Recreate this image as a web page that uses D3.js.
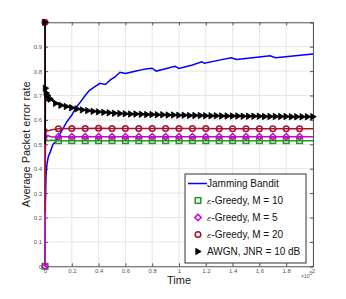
<!DOCTYPE html>
<html><head><meta charset="utf-8">
<script src="https://cdn.jsdelivr.net/npm/d3@7"></script>
<style>body{margin:0;background:#fff;}svg{display:block;font-family:"Liberation Sans",Arial,sans-serif;}</style>
</head><body>
<svg id="c" width="346" height="299"></svg>
<script>
const xTicks = [0,0.2,0.4,0.6,0.8,1,1.2,1.4,1.6,1.8,2];
const xTickLabels = ["0","0.2","0.4","0.6","0.8","1","1.2","1.4","1.6","1.8","2"];
const yTicks = [0,0.1,0.2,0.3,0.4,0.5,0.6,0.7,0.8,0.9,1];
const yTickLabels = ["0","0.1","0.2","0.3","0.4","0.5","0.6","0.7","0.8","0.9",""];

const banditX = [0,0.003,0.008,0.015,0.025,0.04,0.06,0.08,0.1,0.13,0.16,0.2,0.23,0.26,0.3,0.33,0.37,0.41,0.45,0.49,0.52,0.56,0.6,0.64,0.68,0.72,0.76,0.8,0.83,0.9,0.97,1.0,1.1,1.17,1.19,1.3,1.39,1.43,1.55,1.68,1.72,1.85,2.0];
const banditY = [0,0.25,0.38,0.42,0.45,0.47,0.5,0.51,0.53,0.56,0.59,0.62,0.65,0.67,0.7,0.72,0.735,0.75,0.745,0.765,0.775,0.795,0.79,0.795,0.8,0.805,0.81,0.812,0.80,0.81,0.82,0.811,0.825,0.838,0.832,0.845,0.855,0.848,0.855,0.863,0.855,0.862,0.87];

const g10X = [0,0.002,0.005,0.01,0.02,0.05,0.1,0.2,0.3,0.4,0.5,0.6,0.7,0.8,0.9,1.0,1.1,1.2,1.3,1.4,1.5,1.6,1.7,1.8,1.9,2.0];
const g10Y = [0,0.53,0.51,0.52,0.515,0.517,0.515,0.515,0.515,0.515,0.515,0.515,0.515,0.515,0.515,0.515,0.515,0.515,0.515,0.515,0.515,0.515,0.515,0.515,0.515,0.515];
const g5X = [0,0.001,0.003,0.006,0.01,0.02,0.05,0.1,0.2,0.3,0.4,0.5,0.6,0.7,0.8,0.9,1.0,1.1,1.2,1.3,1.4,1.5,1.6,1.7,1.8,1.9,2.0];
const g5Y = [0,0.2,0.53,0.545,0.525,0.535,0.53,0.531,0.531,0.531,0.531,0.531,0.531,0.531,0.531,0.531,0.531,0.531,0.531,0.531,0.531,0.531,0.531,0.531,0.531,0.531,0.531];
const g20X = [0,0.001,0.003,0.006,0.01,0.02,0.05,0.1,0.2,0.3,0.4,0.5,0.6,0.7,0.8,0.9,1.0,1.1,1.2,1.3,1.4,1.5,1.6,1.7,1.8,1.9,2.0];
const g20Y = [1,0.22,0.55,0.54,0.56,0.555,0.56,0.564,0.565,0.565,0.566,0.565,0.565,0.565,0.565,0.565,0.565,0.565,0.565,0.564,0.564,0.564,0.564,0.564,0.564,0.564,0.564];
const awgnX = [0,0.001,0.004,0.01,0.02,0.03,0.04,0.08,0.12,0.16,0.2,0.24,0.28,0.32,0.36,0.4,0.44,0.48,0.52,0.56,0.6,0.64,0.68,0.72,0.76,0.8,0.84,0.88,0.92,0.96,1.0,1.04,1.08,1.12,1.16,1.2,1.24,1.28,1.32,1.36,1.4,1.44,1.48,1.52,1.56,1.6,1.64,1.68,1.72,1.76,1.8,1.84,1.88,1.92,1.96,2.0];
const awgnY = [1.0,0.5,0.73,0.71,0.70,0.69,0.685,0.668,0.66,0.655,0.65,0.645,0.641,0.638,0.635,0.633,0.631,0.629,0.627,0.626,0.625,0.624,0.624,0.623,0.622,0.622,0.621,0.621,0.62,0.62,0.619,0.619,0.618,0.618,0.618,0.617,0.617,0.617,0.616,0.616,0.616,0.616,0.615,0.615,0.615,0.615,0.614,0.614,0.614,0.614,0.614,0.613,0.613,0.613,0.613,0.613];
// x positions carrying markers for the epsilon-greedy curves
const greedyMarkX = [0,0.1,0.2,0.3,0.4,0.5,0.6,0.7,0.8,0.9,1.0,1.1,1.2,1.3,1.4,1.5,1.6,1.7,1.8,1.9];

const legendLabels = ["Jamming Bandit","-Greedy, M = 10","-Greedy, M = 5","-Greedy, M = 20","AWGN, JNR = 10 dB"];

const L = 45, R = 313, T = 22.3, B = 266.3;
const svg = d3.select("#c");
const x = d3.scaleLinear().domain([0,2]).range([L,R]);
const y = d3.scaleLinear().domain([0,1]).range([B,T]);

// grid
svg.append("g").selectAll("line").data(xTicks).join("line")
  .attr("x1",d=>x(d)).attr("x2",d=>x(d)).attr("y1",T).attr("y2",B)
  .attr("stroke","#e6e6e6").attr("stroke-width",1);
svg.append("g").selectAll("line").data(yTicks).join("line")
  .attr("x1",L).attr("x2",R).attr("y1",d=>y(d)).attr("y2",d=>y(d))
  .attr("stroke","#e6e6e6").attr("stroke-width",1);

// axes
const axCol = "#555";
const gxB = svg.append("g").attr("transform",`translate(0,${B})`)
  .call(d3.axisBottom(x).tickValues(xTicks).tickSize(-3).tickPadding(2).tickFormat((d,i)=>xTickLabels[i]));
const gxT = svg.append("g").attr("transform",`translate(0,${T})`)
  .call(d3.axisTop(x).tickValues(xTicks).tickSize(-3).tickFormat(""));
const gyL = svg.append("g").attr("transform",`translate(${L},0)`)
  .call(d3.axisLeft(y).tickValues(yTicks).tickSize(-3).tickPadding(3).tickFormat((d,i)=>yTickLabels[i]));
const gyR = svg.append("g").attr("transform",`translate(${R},0)`)
  .call(d3.axisRight(y).tickValues(yTicks).tickSize(-3).tickFormat(""));
[gxB,gxT,gyL,gyR].forEach(g=>{
  g.select(".domain").attr("stroke",axCol).attr("stroke-width",1);
  g.selectAll(".tick line").attr("stroke",axCol);
  g.selectAll(".tick text").attr("fill","#555").attr("font-size","6px").attr("font-family","Liberation Sans,Arial,sans-serif");
});

// exponent
const ex = svg.append("text").attr("x",x(2)-12).attr("y",B+12).attr("font-size","5px").attr("fill","#555");
ex.append("tspan").text("\u00d710");
ex.append("tspan").attr("dy",-3).attr("font-size","4.5px").text("5");

// axis titles
svg.append("text").attr("x",(L+R)/2).attr("y",B+18).attr("text-anchor","middle")
  .attr("font-size","11px").attr("fill","#222").text("Time");
svg.append("text").attr("transform",`translate(${L-15},${(T+B)/2}) rotate(-90)`).attr("text-anchor","middle")
  .attr("font-size","11px").attr("fill","#222").text("Average Packet error rate");

const line = d3.line().x(d=>x(d[0])).y(d=>y(d[1]));
const zip = (a,b)=>a.map((v,i)=>[v,b[i]]);

const colBlue="#0000ff", colGreen="#1e9a1e", colMag="#d000d0", colRed="#a3142f", colBlk="#000";

// lines
svg.append("path").attr("d",line(zip(banditX,banditY))).attr("fill","none").attr("stroke",colBlue).attr("stroke-width",1.5);
svg.append("path").attr("d",line(zip(g10X,g10Y))).attr("fill","none").attr("stroke",colGreen).attr("stroke-width",1.5);
const g10M = zip(g10X,g10Y).filter(d=>greedyMarkX.includes(d[0]));
svg.append("g").selectAll("rect").data(g10M).join("rect")
  .attr("x",d=>x(d[0])-2.8).attr("y",d=>y(d[1])-2.8).attr("width",5.6).attr("height",5.6)
  .attr("fill","none").attr("stroke",colGreen).attr("stroke-width",1.5);

svg.append("path").attr("d",line(zip(g5X,g5Y))).attr("fill","none").attr("stroke",colMag).attr("stroke-width",1.5);
const g5M = zip(g5X,g5Y).filter(d=>greedyMarkX.includes(d[0]));
const diamond = (cx,cy,r)=>`M${cx},${cy-r}L${cx+r},${cy}L${cx},${cy+r}L${cx-r},${cy}Z`;
svg.append("g").selectAll("path").data(g5M).join("path")
  .attr("d",d=>diamond(x(d[0]),y(d[1]),3.2))
  .attr("fill","none").attr("stroke",colMag).attr("stroke-width",1.5);

svg.append("path").attr("d",line(zip(g20X,g20Y))).attr("fill","none").attr("stroke",colRed).attr("stroke-width",1.5);
const g20M = zip(g20X,g20Y).filter(d=>greedyMarkX.includes(d[0]));
svg.append("g").selectAll("circle").data(g20M).join("circle")
  .attr("cx",d=>x(d[0])).attr("cy",d=>y(d[1])).attr("r",2.8)
  .attr("fill","none").attr("stroke",colRed).attr("stroke-width",1.5);

svg.append("path").attr("d",line(zip(awgnX,awgnY))).attr("fill","none").attr("stroke",colBlk).attr("stroke-width",1.5);
const tri = (cx,cy,r)=>`M${cx+r},${cy}L${cx-r*0.7},${cy-r}L${cx-r*0.7},${cy+r}Z`;
const awM = zip(awgnX,awgnY).filter((d,i)=>i!==1);
svg.append("g").selectAll("path").data(awM).join("path")
  .attr("d",d=>tri(x(d[0]),y(d[1]),3.2))
  .attr("fill",colBlk).attr("stroke",colBlk).attr("stroke-width",0.8);

// legend
const lgX=185, lgY=174, lgW=121, lgH=89;
svg.append("rect").attr("x",lgX).attr("y",lgY).attr("width",lgW).attr("height",lgH)
  .attr("fill","#fff").attr("stroke","#333").attr("stroke-width",1);
const rowY = i=>lgY+9.5+i*17;
const mx = lgX+13;
legendLabels.forEach((lab,i)=>{
  const cy = rowY(i);
  const t = svg.append("text").attr("x",lgX+22).attr("y",cy+3.5).attr("font-size","10px").attr("fill","#111");
  if(i>=1 && i<=3){
    t.append("tspan").attr("font-family","DejaVu Serif,serif").attr("font-style","italic").attr("font-size","8px").text("\u03b5");
  }
  t.append("tspan").text(lab);
});
svg.append("line").attr("x1",lgX+3).attr("x2",lgX+22).attr("y1",rowY(0)).attr("y2",rowY(0)).attr("stroke",colBlue).attr("stroke-width",1.5);
svg.append("rect").attr("x",mx-2.8).attr("y",rowY(1)-2.8).attr("width",5.6).attr("height",5.6).attr("fill","none").attr("stroke",colGreen).attr("stroke-width",1.5);
svg.append("path").attr("d",diamond(mx,rowY(2),3.2)).attr("fill","none").attr("stroke",colMag).attr("stroke-width",1.5);
svg.append("circle").attr("cx",mx).attr("cy",rowY(3)).attr("r",2.8).attr("fill","none").attr("stroke",colRed).attr("stroke-width",1.5);
svg.append("path").attr("d",tri(mx,rowY(4),3.2)).attr("fill",colBlk).attr("stroke",colBlk).attr("stroke-width",0.8);
</script>
</body></html>
